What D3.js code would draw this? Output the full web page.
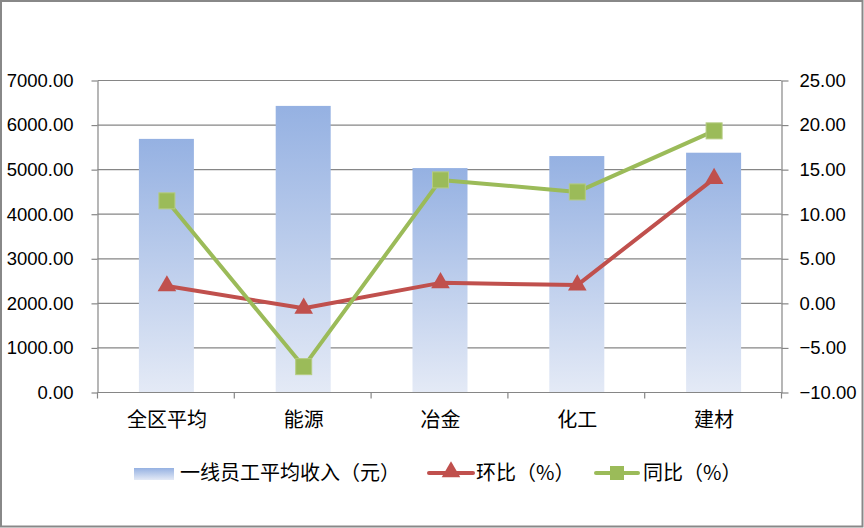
<!DOCTYPE html>
<html><head><meta charset="utf-8">
<script src="https://cdn.jsdelivr.net/npm/d3@7/dist/d3.min.js"></script>
<style>body{margin:0;background:#fff}svg{display:block}</style>
</head><body>
<svg id="c" width="864" height="528"></svg>
<script>
const categories = ["全区平均","能源","冶金","化工","建材"];
const income = [5690, 6430, 5035, 5305, 5380];
const huanbi = [1.95, -0.55, 2.3, 2.05, 14.0];
const tongbi = [11.5, -7.1, 13.85, 12.5, 19.35];
const leftTicks = [0,1000,2000,3000,4000,5000,6000,7000];
const rightTicks = [-10,-5,0,5,10,15,20,25];
const legendLabels = ["一线员工平均收入（元）","环比（%）","同比（%）"];

const svg = d3.select("#c");
const L = 97.5, R = 781.5, T = 80.5, B = 392.5;
const grid = "#868686";
const cjk = "'Noto Sans CJK SC', sans-serif";
const num = "'Liberation Sans', Arial, sans-serif";

svg.append("rect").attr("x",1).attr("y",1).attr("width",861.5).attr("height",525.5)
  .attr("fill","#fff").attr("stroke","#888").attr("stroke-width",2);

const defs = svg.append("defs");
const g = defs.append("linearGradient").attr("id","bg").attr("x1",0).attr("y1",0).attr("x2",0).attr("y2",1);
g.append("stop").attr("offset","0%").attr("stop-color","#95B1E2");
g.append("stop").attr("offset","100%").attr("stop-color","#E4EAF6");
const lg = defs.append("linearGradient").attr("id","lg").attr("x1",0).attr("y1",0).attr("x2",0).attr("y2",1);
lg.append("stop").attr("offset","0%").attr("stop-color","#95B1E2");
lg.append("stop").attr("offset","100%").attr("stop-color","#E4EAF6");

const x = d3.scaleBand().domain(categories).range([L,R]).paddingInner(0).paddingOuter(0);
const yL = d3.scaleLinear().domain([0,7000]).range([B,T]);
const yR = d3.scaleLinear().domain([-10,25]).range([B,T]);

// gridlines
svg.append("g").selectAll("line").data(leftTicks.slice(1)).join("line")
  .attr("x1",L).attr("x2",R).attr("y1",d=>yL(d)).attr("y2",d=>yL(d))
  .attr("stroke",grid).attr("stroke-width",1.2);

// bars
const bw = 55;
svg.append("g").selectAll("rect").data(income).join("rect")
  .attr("x",(d,i)=>x(categories[i])+x.bandwidth()/2-bw/2+0.5)
  .attr("y",d=>yL(d)).attr("width",bw).attr("height",d=>B-yL(d))
  .attr("fill","url(#bg)");

// left axis
const axL = svg.append("g").attr("transform",`translate(${L},0)`)
  .call(d3.axisLeft(yL).tickValues(leftTicks).tickFormat(d3.format(".2f")).tickSize(6).tickSizeOuter(0));
axL.select(".domain").attr("stroke",grid).attr("stroke-width",1.2);
axL.selectAll(".tick line").attr("stroke",grid).attr("stroke-width",1.2);
axL.selectAll("text").attr("font-family",num).attr("font-size",18.5).attr("fill","#000").attr("x",-24);

// right axis
const axR = svg.append("g").attr("transform",`translate(${R},0)`)
  .call(d3.axisRight(yR).tickValues(rightTicks).tickFormat(d3.format(".2f")).tickSize(7).tickSizeOuter(0));
axR.select(".domain").attr("stroke",grid).attr("stroke-width",1.2);
axR.selectAll(".tick line").attr("stroke",grid).attr("stroke-width",1.2);
axR.selectAll("text").attr("font-family",num).attr("font-size",18.5).attr("fill","#000").attr("x",18);

// bottom axis
svg.append("line").attr("x1",L).attr("x2",R).attr("y1",B).attr("y2",B).attr("stroke",grid).attr("stroke-width",1.2);
const bounds = categories.map(c=>x(c)).concat([R]);
svg.append("g").selectAll("line").data(bounds).join("line")
  .attr("x1",d=>d).attr("x2",d=>d).attr("y1",B).attr("y2",B+6).attr("stroke",grid).attr("stroke-width",1.2);
svg.append("g").selectAll("text").data(categories).join("text")
  .attr("x",d=>x(d)+x.bandwidth()/2+1).attr("y",420).attr("dy","0.35em")
  .attr("text-anchor","middle").attr("font-family",cjk).attr("font-size",20).text(d=>d);

// lines
const red = "#C0504D", green = "#9BBB59";
const cx = i => x(categories[i])+x.bandwidth()/2+1;
const line = d3.line().x((d,i)=>cx(i)).y(d=>yR(d));
svg.append("path").datum(huanbi).attr("d",line).attr("fill","none").attr("stroke",red).attr("stroke-width",4).attr("stroke-linejoin","round");
svg.append("path").datum(tongbi).attr("d",line).attr("fill","none").attr("stroke",green).attr("stroke-width",4).attr("stroke-linejoin","round");

const tri = d3.symbol().type(d3.symbolTriangle).size(150);
svg.append("g").selectAll("path").data(huanbi).join("path")
  .attr("d",tri).attr("transform",(d,i)=>`translate(${cx(i)},${yR(d)})`).attr("fill",red);
svg.append("g").selectAll("rect").data(tongbi).join("rect")
  .attr("x",(d,i)=>cx(i)-8).attr("y",d=>yR(d)-8).attr("width",16).attr("height",16)
  .attr("fill",green).attr("stroke","#B5CC80").attr("stroke-width",1);

// legend
const ly = 473;
svg.append("rect").attr("x",134).attr("y",468).attr("width",40).attr("height",12).attr("fill","url(#lg)");
svg.append("text").attr("x",180).attr("y",ly).attr("dy","0.35em").attr("font-family",cjk).attr("font-size",20).text(legendLabels[0]);
svg.append("line").attr("x1",429).attr("x2",473).attr("y1",ly).attr("y2",ly).attr("stroke",red).attr("stroke-width",4).attr("stroke-linecap","round");
svg.append("path").attr("d",tri).attr("transform",`translate(451,${ly-1})`).attr("fill",red);
svg.append("text").attr("x",476).attr("y",ly).attr("dy","0.35em").attr("font-family",cjk).attr("font-size",20).text(legendLabels[1]);
svg.append("line").attr("x1",596).attr("x2",638).attr("y1",ly).attr("y2",ly).attr("stroke",green).attr("stroke-width",4).attr("stroke-linecap","round");
svg.append("rect").attr("x",610).attr("y",ly-7).attr("width",14).attr("height",14).attr("fill",green);
svg.append("text").attr("x",643).attr("y",ly).attr("dy","0.35em").attr("font-family",cjk).attr("font-size",20).text(legendLabels[2]);
</script>
</body></html>
